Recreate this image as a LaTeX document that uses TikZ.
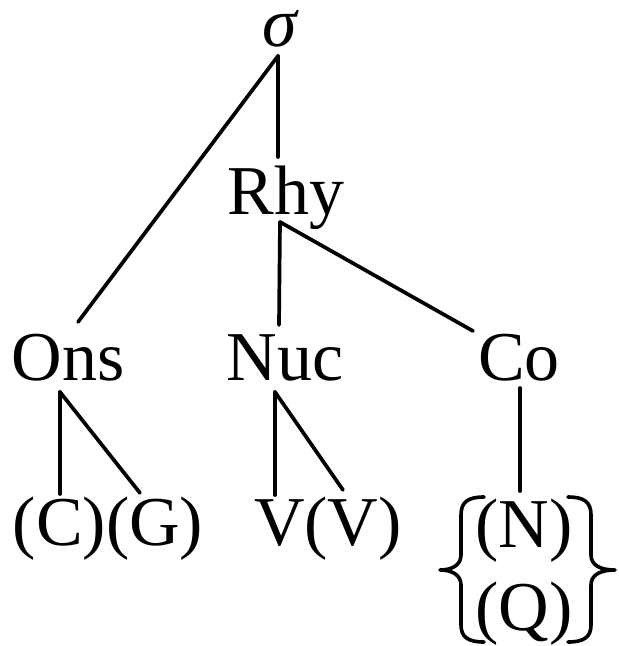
\documentclass[tikz,border=0pt]{standalone}
\usepackage{fontspec}
\setmainfont{Liberation Serif}
\begin{document}
\begin{tikzpicture}[x=1pt,y=1pt,
  lab/.style={inner sep=0pt, anchor=base, font=\fontsize{70}{84}\selectfont},
  edge/.style={line width=3.7pt, line cap=round},
  brc/.style={line width=3.6pt, line cap=round, line join=round}]
\useasboundingbox (0,0) rectangle (619,-646);
% labels
\node[lab] (sigma) at (281,-46) {\textit{σ}};
\node[lab] (Rhy) at (286,-214) {Rhy};
\node[lab] (Ons) at (68,-380) {Ons};
\node[lab] (Nuc) at (285,-380) {Nuc};
\node[lab] (Co) at (519,-380) {Co};
\node[lab] (CG) at (108,-545) {(C)(G)};
\node[lab] (VV) at (328,-545) {V(V)};
\node[lab] (N) at (524,-547) {(N)};
\node[lab] (Q) at (524,-630) {(Q)};
% attachment points
\coordinate (sigma-b) at (278,-56);
\coordinate (Rhy-t) at (278,-157);
\coordinate (Rhy-b) at (280,-222);
\coordinate (Ons-t) at (78,-322);
\coordinate (Ons-b) at (60,-392);
\coordinate (Nuc-t) at (279,-325);
\coordinate (Nuc-b) at (275,-392);
\coordinate (Co-t) at (473,-331);
\coordinate (Co-b) at (520,-388);
\coordinate (C-t) at (60,-494);
\coordinate (G-t) at (140,-493);
\coordinate (V1-t) at (275,-495);
\coordinate (V2-t) at (343,-490);
\coordinate (NQ-t) at (520,-491);
% connectors
\draw[edge] (sigma-b) -- (Ons-t);
\draw[edge] (sigma-b) -- (Rhy-t);
\draw[edge] (Rhy-b) -- (Nuc-t);
\draw[edge] (Rhy-b) -- (Co-t);
\draw[edge] (Ons-b) -- (C-t);
\draw[edge] (Ons-b) -- (G-t);
\draw[edge] (Nuc-b) -- (V1-t);
\draw[edge] (Nuc-b) -- (V2-t);
\draw[edge] (Co-b) -- (NQ-t);
% braces
\draw[brc] (484,-497) .. controls (468,-497) and (461,-502) .. (461,-515)
  -- (461,-555) .. controls (461,-565) and (452,-570) .. (440,-570)
  .. controls (452,-570) and (461,-575) .. (461,-585)
  -- (461,-625) .. controls (461,-637) and (468,-642) .. (484,-642);
\draw[brc] (568,-497) .. controls (584,-497) and (591,-502) .. (591,-515)
  -- (591,-555) .. controls (591,-565) and (600,-570) .. (615,-570)
  .. controls (600,-570) and (591,-575) .. (591,-585)
  -- (591,-625) .. controls (591,-637) and (584,-642) .. (568,-642);
\end{tikzpicture}
\end{document}
